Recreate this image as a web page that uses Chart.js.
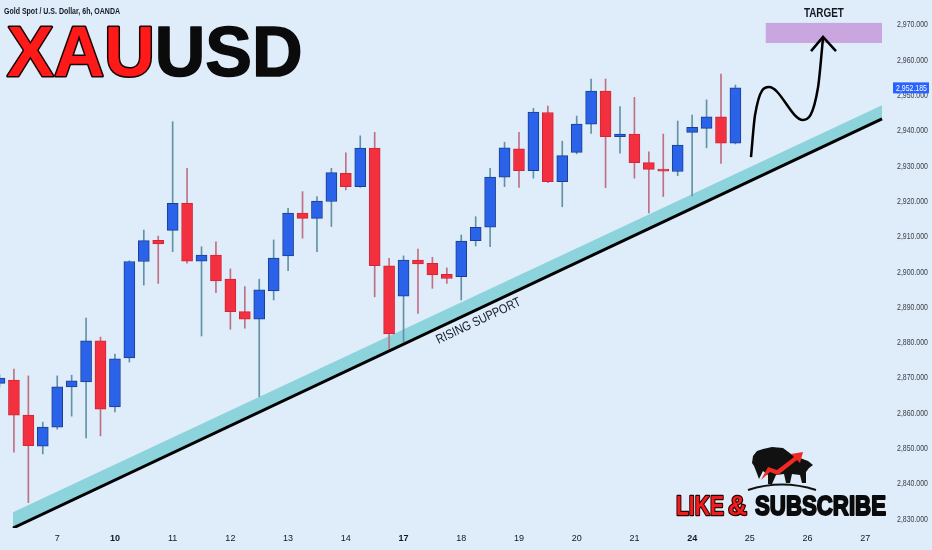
<!DOCTYPE html>
<html>
<head>
<meta charset="utf-8">
<script src="https://cdn.jsdelivr.net/npm/chart.js@4.4.1/dist/chart.umd.min.js"></script>
<style>
  html, body { margin: 0; padding: 0; background: #deedf9; }
  canvas { display: block; }
</style>
</head>
<body>
<canvas id="chart" width="932" height="550"></canvas>
<script>
// XAUUSD 6h candles (bar index 0 = Feb 6, 00:00)
const opens  = [2868.5, 2869.4, 2859.5, 2850.7, 2856.1, 2867.5, 2868.9, 2880.5, 2861.8, 2875.7,
                2903.0, 2909.0, 2911.8, 2919.5, 2903.1, 2904.8, 2898.0, 2888.8, 2886.7, 2894.7,
                2904.6, 2916.7, 2915.2, 2920.0, 2928.0, 2924.2, 2935.1, 2901.8, 2893.2, 2903.4,
                2902.5, 2899.4, 2898.7, 2908.9, 2912.7, 2926.9, 2934.9, 2928.7, 2945.2, 2925.6,
                2933.9, 2941.9, 2951.3, 2938.4, 2939.1, 2931.0, 2929.2, 2928.5, 2939.6, 2940.7,
                2944.0, 2936.5];
const highs  = [2871.0, 2872.5, 2870.6, 2857.5, 2870.6, 2870.8, 2887.0, 2881.6, 2876.8, 2903.2,
                2911.9, 2910.2, 2942.6, 2929.4, 2907.2, 2908.6, 2900.9, 2895.9, 2898.0, 2909.1,
                2918.1, 2922.8, 2921.4, 2929.4, 2933.8, 2938.6, 2939.6, 2903.9, 2904.6, 2906.5,
                2904.2, 2901.2, 2910.5, 2915.7, 2929.4, 2936.8, 2939.6, 2946.4, 2947.0, 2937.1,
                2944.2, 2954.7, 2954.7, 2946.9, 2949.5, 2934.1, 2939.1, 2942.8, 2944.5, 2948.8,
                2956.1, 2953.0];
const lows   = [2867.5, 2849.0, 2834.7, 2848.5, 2855.5, 2859.2, 2853.0, 2853.6, 2860.4, 2874.5,
                2896.3, 2896.8, 2905.8, 2902.5, 2881.9, 2894.2, 2883.8, 2884.1, 2864.7, 2892.1,
                2900.4, 2909.6, 2905.8, 2912.9, 2923.3, 2924.0, 2893.0, 2878.4, 2880.3, 2888.3,
                2895.4, 2896.8, 2892.1, 2907.4, 2907.2, 2924.2, 2924.0, 2926.6, 2925.3, 2918.5,
                2933.5, 2939.3, 2923.9, 2933.7, 2926.6, 2916.8, 2921.4, 2927.3, 2921.6, 2935.2,
                2930.8, 2936.3];
const closes = [2870.0, 2859.5, 2850.8, 2856.1, 2867.5, 2869.2, 2880.5, 2861.2, 2875.4, 2903.0,
                2908.9, 2908.0, 2919.5, 2903.1, 2904.8, 2897.5, 2888.8, 2886.7, 2895.0, 2904.0,
                2916.7, 2915.2, 2920.1, 2928.2, 2924.2, 2935.1, 2901.8, 2882.5, 2903.4, 2902.3,
                2899.2, 2898.2, 2908.8, 2912.7, 2926.9, 2935.2, 2928.7, 2945.3, 2925.6, 2933.0,
                2941.9, 2951.3, 2938.4, 2939.1, 2931.0, 2929.1, 2928.6, 2936.0, 2941.0, 2944.0,
                2936.5, 2952.185];

// time axis: bar index of each day label
const dayTickPos = [4, 8, 12, 16, 20, 24, 28, 32, 36, 40, 44, 48, 52, 56, 60];
const dayLabels  = ['7', '10', '11', '12', '13', '14', '17', '18', '19', '20', '21', '24', '25', '26', '27'];
const weekStarts = ['10', '17', '24'];

// price axis
const priceTicks = [2830, 2840, 2850, 2860, 2870, 2880, 2890, 2900, 2910, 2920, 2930, 2940, 2950, 2960, 2970];

// drawings, in (bar index, price)
const bandX    = [0.935, 61.16];
const bandTop  = [2832.0, 2947.3];
const supportY = [2827.5, 2943.4];
const pathX = [52.08, 52.36, 53.33, 55.68, 56.72, 57.07];
const pathY = [2932.6, 2944.5, 2952.4, 2943.1, 2952.2, 2966.3];
const headX = [56.24, 57.07, 57.97];
const headY = [2962.6, 2966.6, 2962.6];
const targetX = [53.1, 61.16];
const targetY = [2964.9, 2970.6];
const labelPos = [33.2, 2886.1];   // "RISING SUPPORT"

const UP = '#2b62ea', UP_BORDER = '#1b3f8f', UP_WICK = '#6392a8';
const DOWN = '#f2303f', DOWN_BORDER = '#d32535', DOWN_WICK = '#c07085';
const NARROW = '"Liberation Sans Narrow", "Liberation Sans", Arial, sans-serif';

const isUp = i => closes[i] >= opens[i];
const pts = (xs, ys) => xs.map((x, i) => ({x: x, y: ys[i]}));
const fmt = v => v.toLocaleString('en-US', {minimumFractionDigits: 3, maximumFractionDigits: 3});

function drawBull(ctx) {
    ctx.save();
    ctx.fillStyle = '#111';
    ctx.beginPath();
    ctx.moveTo(752, 463); ctx.lineTo(753, 456); ctx.lineTo(757, 451); ctx.lineTo(763, 449);
    ctx.lineTo(772, 447); ctx.lineTo(783, 448); ctx.lineTo(791, 454); ctx.lineTo(800, 458);
    ctx.lineTo(808, 461); ctx.lineTo(813, 465); ctx.lineTo(809, 468); ctx.lineTo(806, 472);
    ctx.lineTo(806, 483); ctx.lineTo(802, 483); ctx.lineTo(800, 475); ctx.lineTo(792, 474);
    ctx.lineTo(790, 483); ctx.lineTo(786, 483); ctx.lineTo(784, 474); ctx.lineTo(776, 475);
    ctx.lineTo(772, 484); ctx.lineTo(768, 484); ctx.lineTo(768, 475); ctx.lineTo(763, 471);
    ctx.lineTo(759, 479); ctx.lineTo(756, 471); ctx.lineTo(754, 466);
    ctx.closePath();
    ctx.fill();
    // red arrow swoosh
    ctx.fillStyle = '#ee2a22';
    ctx.beginPath();
    ctx.moveTo(761, 480); ctx.lineTo(768, 467); ctx.lineTo(777, 470); ctx.lineTo(794, 457);
    ctx.lineTo(791, 454); ctx.lineTo(803, 452); ctx.lineTo(800, 463); ctx.lineTo(797, 460);
    ctx.lineTo(778, 475); ctx.lineTo(770, 472);
    ctx.closePath();
    ctx.fill();
    // ground arc
    ctx.strokeStyle = '#111';
    ctx.lineWidth = 2;
    ctx.beginPath();
    ctx.moveTo(748, 490);
    ctx.quadraticCurveTo(782, 479, 816, 490);
    ctx.stroke();
    ctx.restore();
}

const drawings = {
    id: 'drawings',
    beforeDraw(chart) {
        const ctx = chart.ctx;
        ctx.save();
        ctx.fillStyle = '#deedf9';
        ctx.fillRect(0, 0, chart.width, chart.height);
        ctx.restore();
    },
    beforeDatasetsDraw(chart) {
        const ctx = chart.ctx, sx = chart.scales.x, sy = chart.scales.y;
        const x1 = sx.getPixelForValue(targetX[0]), x2 = sx.getPixelForValue(targetX[1]);
        const y1 = sy.getPixelForValue(targetY[1]), y2 = sy.getPixelForValue(targetY[0]);
        ctx.save();
        ctx.fillStyle = '#c9a6e0';
        ctx.fillRect(x1, y1, x2 - x1, y2 - y1);
        ctx.restore();
    },
    afterDraw(chart) {
        const ctx = chart.ctx, sx = chart.scales.x, sy = chart.scales.y;
        ctx.save();

        // price axis labels (condensed, from the y scale's ticks)
        ctx.fillStyle = '#3a3d45';
        ctx.font = '9px ' + NARROW;
        ctx.textAlign = 'left';
        ctx.textBaseline = 'middle';
        sy.ticks.forEach(t => {
            ctx.fillText(fmt(t.value), sy.left + 11, sy.getPixelForValue(t.value), 31);
        });

        // header
        ctx.fillStyle = '#131722';
        ctx.font = 'bold 9px ' + NARROW;
        ctx.textBaseline = 'alphabetic';
        ctx.fillText('Gold Spot / U.S. Dollar, 6h, OANDA', 4, 14, 116);

        ctx.font = 'bold 70px "Liberation Sans", Arial, sans-serif';
        ctx.lineJoin = 'round';
        ctx.strokeStyle = '#1a0000';
        ctx.lineWidth = 3;
        ctx.strokeText('XAU', 7, 76);
        ctx.fillStyle = '#ff1a1a';
        ctx.fillText('XAU', 7, 76);
        const w = ctx.measureText('XAU').width;
        ctx.fillStyle = '#0b0b0b';
        ctx.strokeStyle = '#0b0b0b';
        ctx.lineWidth = 1.5;
        ctx.strokeText('USD', 7 + w, 76);
        ctx.fillText('USD', 7 + w, 76);

        // target label
        const tx = (sx.getPixelForValue(targetX[0]) + sx.getPixelForValue(targetX[1])) / 2;
        ctx.fillStyle = '#131722';
        ctx.font = 'bold 12px ' + NARROW;
        ctx.textAlign = 'center';
        ctx.fillText('TARGET', tx, 17, 40);

        // rising support label
        const angle = Math.atan2(
            sy.getPixelForValue(supportY[1]) - sy.getPixelForValue(supportY[0]),
            sx.getPixelForValue(bandX[1]) - sx.getPixelForValue(bandX[0]));
        ctx.translate(sx.getPixelForValue(labelPos[0]), sy.getPixelForValue(labelPos[1]));
        ctx.rotate(angle);
        ctx.font = '13px ' + NARROW;
        ctx.textBaseline = 'middle';
        ctx.fillText('RISING SUPPORT', 0, 0, 92);
        ctx.setTransform(1, 0, 0, 1, 0, 0);

        // last price tag
        const last = closes[closes.length - 1];
        const py = sy.getPixelForValue(last);
        ctx.fillStyle = '#2962ff';
        ctx.fillRect(893, py - 5.5, 36, 11);
        ctx.fillStyle = '#ffffff';
        ctx.font = '9px ' + NARROW;
        ctx.textAlign = 'left';
        ctx.textBaseline = 'middle';
        ctx.fillText(fmt(last), 896, py + 0.5, 31);

        // like & subscribe
        drawBull(ctx);
        ctx.textBaseline = 'alphabetic';
        ctx.font = 'bold 28px ' + NARROW;
        ctx.lineJoin = 'round';
        ctx.strokeStyle = '#2a0000';
        ctx.lineWidth = 2.5;
        ctx.strokeText('LIKE', 676, 515, 48);
        ctx.strokeText('&', 728, 515, 19);
        ctx.fillStyle = '#f21c1c';
        ctx.fillText('LIKE', 676, 515, 48);
        ctx.fillText('&', 728, 515, 19);
        ctx.strokeStyle = '#0b0b0b';
        ctx.lineWidth = 2;
        ctx.strokeText('SUBSCRIBE', 755, 515, 131);
        ctx.fillStyle = '#0b0b0b';
        ctx.fillText('SUBSCRIBE', 755, 515, 131);

        ctx.restore();
    }
};

const ctx = document.getElementById('chart').getContext('2d');
const chart = new Chart(ctx, {
    type: 'bar',
    data: {
        datasets: [
            {
                type: 'line',
                data: pts(bandX, bandTop),
                borderWidth: 0,
                pointRadius: 0,
                backgroundColor: '#8dd3db',
                fill: '+1',
                order: 10
            },
            {
                type: 'line',
                data: pts(bandX, supportY),
                borderColor: '#000000',
                borderWidth: 3,
                pointRadius: 0,
                fill: false,
                order: 9
            },
            {
                label: 'wick',
                data: opens.map((o, i) => ({x: i, y: [lows[i], highs[i]]})),
                backgroundColor: c => isUp(c.dataIndex) ? UP_WICK : DOWN_WICK,
                barThickness: 1,
                grouped: false,
                order: 5
            },
            {
                label: 'body',
                data: opens.map((o, i) => ({x: i, y: [o, closes[i]]})),
                backgroundColor: c => isUp(c.dataIndex) ? UP : DOWN,
                borderColor: c => isUp(c.dataIndex) ? UP_BORDER : DOWN_BORDER,
                borderWidth: 1,
                borderSkipped: false,
                barThickness: 11,
                grouped: false,
                order: 4
            },
            {
                type: 'line',
                data: pts(pathX, pathY),
                borderColor: '#000000',
                borderWidth: 2.5,
                pointRadius: 0,
                cubicInterpolationMode: 'monotone',
                fill: false,
                order: 1
            },
            {
                type: 'line',
                data: pts(headX, headY),
                borderColor: '#000000',
                borderWidth: 2.5,
                pointRadius: 0,
                fill: false,
                order: 1
            }
        ]
    },
    options: {
        responsive: false,
        animation: false,
        devicePixelRatio: 1,
        layout: { padding: 0 },
        plugins: {
            legend: { display: false },
            tooltip: { enabled: false }
        },
        scales: {
            x: {
                type: 'linear',
                offset: false,
                min: 0.0347,
                max: 61.435,
                grid: { display: false, drawTicks: false },
                border: { display: false },
                afterBuildTicks: scale => { scale.ticks = dayTickPos.map(v => ({value: v})); },
                afterFit: scale => { scale.height = 22; scale.paddingLeft = 0; scale.paddingRight = 0; },
                ticks: {
                    autoSkip: false,
                    maxRotation: 0,
                    padding: 5,
                    color: '#131722',
                    font: c => ({
                        family: NARROW,
                        size: 9,
                        weight: c.tick && weekStarts.includes(dayLabels[dayTickPos.indexOf(c.tick.value)]) ? 'bold' : 'normal'
                    }),
                    callback: v => dayLabels[dayTickPos.indexOf(v)]
                }
            },
            y: {
                position: 'right',
                min: 2827.51,
                max: 2977.08,
                grid: { display: false, drawTicks: false },
                border: { display: false },
                afterBuildTicks: scale => { scale.ticks = priceTicks.map(v => ({value: v})); },
                afterFit: scale => { scale.width = 46; scale.paddingTop = 0; scale.paddingBottom = 0; },
                ticks: { display: false }
            }
        }
    },
    plugins: [drawings]
});
</script>
</body>
</html>
